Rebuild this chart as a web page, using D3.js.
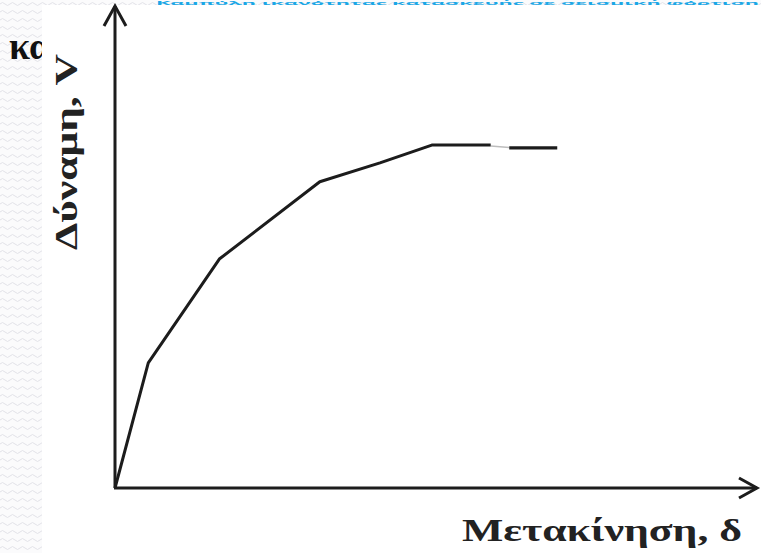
<!DOCTYPE html>
<html>
<head>
<meta charset="utf-8">
<script src="https://cdn.jsdelivr.net/npm/d3@7"></script>
<style>
html,body{margin:0;padding:0;background:#fff;overflow:hidden;}
svg{display:block;}
</style>
</head>
<body>
<svg id="chart" width="761" height="553"></svg>
<script>
// Data (displacement δ, force V) in arbitrary units
const displacement = [0, 5.2, 16.3, 32.0, 41.4, 49.5, 58.7];
const force        = [0, 25.9, 47.4, 63.4, 67.3, 71.0, 71.0];
const tailDisp  = [61.6, 69.1];
const tailForce = [70.4, 70.4];
const gapDisp  = [58.7, 61.6];
const gapForce = [70.8, 70.5];
const xLabel = "Μετακίνηση, δ";
const yLabel = "Δύναμη, V";
const slideText = "και";
const titleText = "Καμπύλη ικανότητας κατασκευής σε σεισμική φόρτιση";

const W = 761, H = 553;
const svg = d3.select("#chart");

// background slide pattern
const defs = svg.append("defs");
const pat = defs.append("pattern").attr("id","wave").attr("patternUnits","userSpaceOnUse")
  .attr("width",10).attr("height",8);
pat.append("rect").attr("width",10).attr("height",8).attr("fill","#fbfbfc");
pat.append("path").attr("d","M0,4 Q2.5,1 5,4 T10,4").attr("fill","none")
  .attr("stroke","#e2e3e8").attr("stroke-width",1);

svg.append("rect").attr("width",W).attr("height",H).attr("fill","url(#wave)");

// partially hidden slide texts
svg.append("text").attr("x",156).attr("y",5).attr("fill","#1aa7e6")
  .attr("font-family","Open Sans, sans-serif").attr("font-weight","bold")
  .attr("font-size",6).attr("textLength",603).attr("lengthAdjust","spacingAndGlyphs")
  .text(titleText);
svg.append("text").attr("x",9).attr("y",59).attr("fill","#111")
  .attr("font-family","Liberation Serif, serif").attr("font-weight","600")
  .attr("font-size",38).text(slideText);

// chart image area
svg.append("rect").attr("x",42).attr("y",5).attr("width",W-42).attr("height",H-5).attr("fill","#fff");

const x = d3.scaleLinear().domain([0,100]).range([115,755]);
const y = d3.scaleLinear().domain([0,100]).range([488,5]);

const ink = "#1c1c1c";
// axes
const g = svg.append("g");
g.append("line").attr("x1",x(0)).attr("y1",y(0)).attr("x2",x(0)).attr("y2",y(100)+1)
  .attr("stroke",ink).attr("stroke-width",3);
g.append("line").attr("x1",x(0)-1).attr("y1",y(0)).attr("x2",x(100)+2).attr("y2",y(0))
  .attr("stroke",ink).attr("stroke-width",3);
// arrow heads
g.append("path").attr("d",`M${x(0)-11},${y(100)+21} L${x(0)},${y(100)+1} L${x(0)+11},${y(100)+21}`)
  .attr("fill","none").attr("stroke",ink).attr("stroke-width",3);
g.append("path").attr("d",`M${x(100)-16},${y(0)-10} L${x(100)+2},${y(0)} L${x(100)-16},${y(0)+10}`)
  .attr("fill","none").attr("stroke",ink).attr("stroke-width",3);

// curve
const line = d3.line().x(d=>x(d[0])).y(d=>y(d[1]));
g.append("path").datum(d3.zip(gapDisp,gapForce)).attr("d",line)
  .attr("fill","none").attr("stroke","#bdbdbd").attr("stroke-width",1.5);
g.append("path").datum(d3.zip(displacement,force)).attr("d",line)
  .attr("fill","none").attr("stroke",ink).attr("stroke-width",3).attr("stroke-linejoin","round");
g.append("path").datum(d3.zip(tailDisp,tailForce)).attr("d",line)
  .attr("fill","none").attr("stroke",ink).attr("stroke-width",3.2);

// labels
svg.append("text").attr("x",462).attr("y",541)
  .attr("font-family","Liberation Serif, Times New Roman, serif").attr("font-weight","bold")
  .attr("font-size",31).attr("fill","#222")
  .attr("textLength",280).attr("lengthAdjust","spacingAndGlyphs").text(xLabel);
svg.append("text").attr("transform","translate(77,250) rotate(-90)")
  .attr("font-family","Liberation Serif, Times New Roman, serif").attr("font-weight","bold")
  .attr("font-size",31).attr("fill","#222")
  .attr("textLength",196).attr("lengthAdjust","spacingAndGlyphs").text(yLabel);
// left slide strip covers the cut edge of the axis label
svg.append("rect").attr("x",0).attr("y",62).attr("width",42).attr("height",H-62).attr("fill","url(#wave)");
</script>
</body>
</html>
